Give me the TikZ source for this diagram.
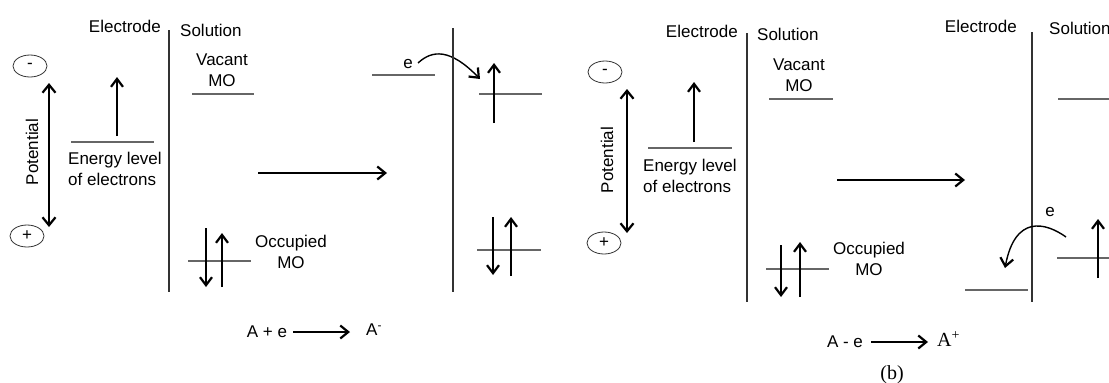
\documentclass[tikz,border=0pt]{standalone}
\usepackage{fontspec}
\setmainfont{Liberation Sans}
\newfontfamily\serifb{Liberation Serif}
\usetikzlibrary{arrows.meta,positioning,shapes.geometric}

\begin{document}
\begin{tikzpicture}[
        x=1pt, y=-1pt,
        font=\fontsize{17}{21}\selectfont,
        txt/.style={inner sep=0pt, align=center},
        sign/.style={draw=black!80, ellipse, thick, inner sep=0pt, minimum width=34pt, minimum height=22pt},
        level/.style={draw=black!60, line width=1.4pt},
        wall/.style={draw=black!80, line width=1.4pt},
        spin/.style={line width=1.3pt, -{Straight Barb[length=8pt, width=12pt, line width=2.2pt]}},
        arrow/.style={line width=1.5pt, -{Straight Barb[length=8pt, width=13pt, line width=2.2pt]}},
        potarrow/.style={line width=1.9pt, {Straight Barb[length=8pt, width=13pt, line width=2.2pt]}-{Straight Barb[length=8pt, width=13pt, line width=2.2pt]}}
    ]
    \useasboundingbox (0,0) rectangle (1109,383);
    \clip (0,0) rectangle (1109,383);

    % (a) reduction
    \node[sign] (minusA) at (30,66) {-};
    \node[sign] (plusA) at (27,236) {+};
    \coordinate (potTopA) at (49,83);
    \coordinate (potBotA) at (49,227);
    \draw[potarrow] (potTopA) -- (potBotA);
    \node[txt, rotate=90] (potA) at (32,152) {Potential};

    \coordinate (elLA) at (71,142);
    \coordinate (elRA) at (154,142);
    \draw[level] (elLA) -- (elRA);
    \coordinate (elUpA) at (117,136);
    \coordinate (elTopA) at (117,77);
    \draw[spin] (elUpA) -- (elTopA);
    \node[txt, align=left, anchor=north west] (enA) at (68,152) {Energy level\\of electrons};

    \node[txt, anchor=east] (electA) at (161,26) {Electrode};
    \node[txt, anchor=west] (solA) at (180,30) {Solution};
    \coordinate (wallTopA) at (169,30);
    \coordinate (wallBotA) at (169,292);
    \draw[wall] (wallTopA) -- (wallBotA);

    \node[txt] (vacA) at (222,70) {Vacant\\MO};
    \draw[level] (192,94) -- (254,94);
    \draw[level] (188,261) -- (251,261);
    \draw[spin] (206,228) -- (206,287);
    \draw[spin] (222,287) -- (222,233);
    \node[txt] (occA) at (291,252) {Occupied\\MO};

    \coordinate (stepLA) at (258,173);
    \coordinate (stepRA) at (387,173);
    \draw[arrow] (stepLA) -- (stepRA);

    \draw[level] (372,75) -- (435,75);
    \node[txt] (eA) at (408,64) {e};
    \coordinate (jumpA) at (480,79);
    \draw[arrow, line width=1.4pt] (418,63) .. controls (432,50) and (450,48) .. (jumpA);
    \coordinate (wallTopA2) at (453,28);
    \coordinate (wallBotA2) at (453,292);
    \draw[wall] (wallTopA2) -- (wallBotA2);
    \draw[level] (479,94) -- (542,94);
    \draw[spin] (494,123) -- (494,63);
    \draw[level] (477,250) -- (541,250);
    \draw[spin] (493,217) -- (493,275);
    \draw[spin] (511,276) -- (511,217);

    \node[txt] (reacA) at (267,332) {A + e};
    \node[txt, anchor=west] (prodA) at (366,330) {A\textsuperscript{-}};
    \draw[arrow] ([xshift=6pt]reacA.east) -- ([xshift=-16pt]reacA.east -| prodA.west);

    % (b) oxidation
    \node[sign] (minusB) at (605,72) {-};
    \node[sign] (plusB) at (604,243) {+};
    \coordinate (potTopB) at (627,89);
    \coordinate (potBotB) at (627,233);
    \draw[potarrow] (potTopB) -- (potBotB);
    \node[txt, rotate=90] (potB) at (607,160) {Potential};

    \coordinate (elLB) at (648,148);
    \coordinate (elRB) at (732,148);
    \draw[level] (elLB) -- (elRB);
    \coordinate (elUpB) at (694,142);
    \coordinate (elTopB) at (694,82);
    \draw[spin] (elUpB) -- (elTopB);
    \node[txt, align=left, anchor=north west] (enB) at (643,159) {Energy level\\of electrons};

    \node[txt, anchor=east] (electB) at (738,31) {Electrode};
    \node[txt, anchor=west] (solB) at (757,34) {Solution};
    \coordinate (wallTopB) at (747,33);
    \coordinate (wallBotB) at (747,302);
    \draw[wall] (wallTopB) -- (wallBotB);

    \node[txt] (vacB) at (799,75) {Vacant\\MO};
    \draw[level] (769,99) -- (833,99);
    \draw[level] (766,269) -- (829,269);
    \draw[spin] (781,245) -- (781,297);
    \draw[spin] (800,297) -- (800,242);
    \node[txt] (occB) at (869,259) {Occupied\\MO};

    \coordinate (stepLB) at (837,180);
    \coordinate (stepRB) at (965,180);
    \draw[arrow] (stepLB) -- (stepRB);

    \node[txt, anchor=east] (electB2) at (1017,26) {Electrode};
    \node[txt, anchor=west] (solB2) at (1049,28) {Solution};
    \coordinate (wallTopB2) at (1032,32);
    \coordinate (wallBotB2) at (1032,302);
    \draw[wall] (wallTopB2) -- (wallBotB2);
    \draw[level] (1058,99) -- (1115,99);
    \draw[level] (965,290) -- (1028,290);
    \node[txt] (eB) at (1050,212) {e};
    \coordinate (jumpB) at (1005,268);
    \draw[arrow, line width=1.4pt] (1066,237) .. controls (1045,222) and (1015,215) .. (jumpB);
    \draw[level] (1057,258) -- (1115,258);
    \draw[spin] (1098,278) -- (1098,219);

    \node[txt] (reacB) at (845,342) {A - e};
    \node[txt, anchor=west, font=\fontsize{20}{24}\selectfont] (prodB) at (937,339) {\serifb A\textsuperscript{+}};
    \draw[arrow] ([xshift=8pt]reacB.east) -- ([xshift=-9pt]reacB.east -| prodB.west);
    \node[txt, font=\fontsize{20}{24}\selectfont] (capB) at (892,375) {\serifb (b)};
\end{tikzpicture}
\end{document}
